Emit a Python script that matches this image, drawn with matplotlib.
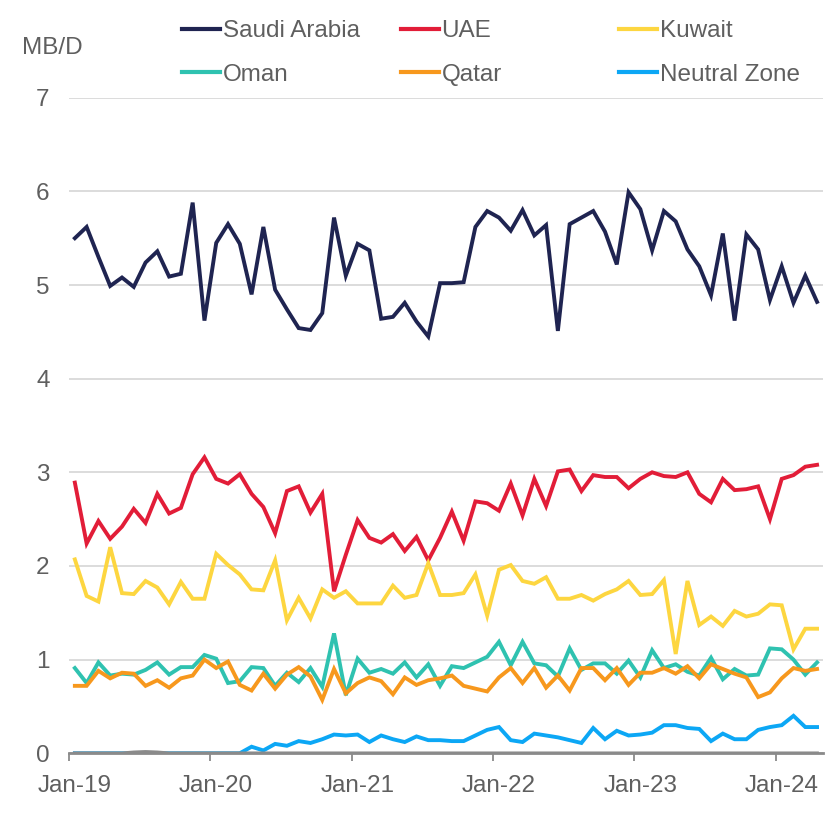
import numpy as np
import pandas as pd
import matplotlib.pyplot as plt

plt.rcParams['font.family'] = ['Liberation Sans', 'DejaVu Sans']

# monthly production, Jan-19 .. Apr-24 (MB/D)
months = pd.date_range('2019-01-01', periods=64, freq='MS')

saudi = [5.50, 5.62, 5.30, 4.99, 5.08, 4.98, 5.24, 5.36, 5.09, 5.12, 5.88, 4.62,
         5.45, 5.65, 5.44, 4.90, 5.62, 4.95, 4.74, 4.54, 4.52, 4.70, 5.72, 5.10,
         5.44, 5.37, 4.64, 4.66, 4.81, 4.61, 4.45, 5.02, 5.02, 5.03, 5.62, 5.79,
         5.72, 5.58, 5.80, 5.53, 5.64, 4.51, 5.65, 5.72, 5.79, 5.57, 5.22, 5.99,
         5.81, 5.37, 5.79, 5.68, 5.38, 5.20, 4.89, 5.55, 4.62, 5.54, 5.38, 4.84,
         5.20, 4.81, 5.10, 4.82]
uae = [2.89, 2.24, 2.48, 2.29, 2.42, 2.61, 2.46, 2.77, 2.56, 2.62, 2.98, 3.16,
       2.93, 2.88, 2.98, 2.77, 2.63, 2.35, 2.80, 2.85, 2.57, 2.77, 1.73, 2.12,
       2.49, 2.30, 2.25, 2.34, 2.16, 2.31, 2.06, 2.30, 2.58, 2.27, 2.69, 2.67,
       2.59, 2.88, 2.54, 2.93, 2.64, 3.01, 3.03, 2.80, 2.97, 2.95, 2.95, 2.83,
       2.93, 3.00, 2.96, 2.95, 3.00, 2.77, 2.68, 2.93, 2.81, 2.82, 2.85, 2.50,
       2.93, 2.97, 3.06, 3.08]
kuwait = [2.07, 1.68, 1.62, 2.20, 1.71, 1.70, 1.84, 1.77, 1.59, 1.83, 1.65, 1.65,
          2.13, 2.01, 1.91, 1.75, 1.74, 2.06, 1.42, 1.66, 1.44, 1.75, 1.66, 1.73,
          1.60, 1.60, 1.60, 1.79, 1.66, 1.69, 2.03, 1.69, 1.69, 1.71, 1.91, 1.47,
          1.96, 2.01, 1.84, 1.81, 1.88, 1.65, 1.65, 1.69, 1.63, 1.70, 1.75, 1.84,
          1.69, 1.70, 1.85, 1.06, 1.84, 1.37, 1.46, 1.36, 1.52, 1.46, 1.49, 1.59,
          1.58, 1.11, 1.33, 1.33]
oman = [0.91, 0.75, 0.97, 0.83, 0.85, 0.84, 0.89, 0.97, 0.84, 0.92, 0.92, 1.05,
        1.01, 0.75, 0.77, 0.92, 0.91, 0.72, 0.86, 0.76, 0.91, 0.71, 1.28, 0.62,
        1.01, 0.86, 0.90, 0.85, 0.97, 0.81, 0.95, 0.72, 0.93, 0.91, 0.97, 1.03,
        1.19, 0.94, 1.19, 0.96, 0.94, 0.82, 1.12, 0.89, 0.96, 0.96, 0.85, 0.99,
        0.81, 1.10, 0.91, 0.95, 0.87, 0.83, 1.02, 0.79, 0.90, 0.83, 0.84, 1.12,
        1.11, 1.00, 0.84, 0.97]
qatar = [0.72, 0.72, 0.88, 0.80, 0.86, 0.85, 0.72, 0.78, 0.70, 0.80, 0.83, 1.00,
         0.91, 0.98, 0.73, 0.67, 0.85, 0.69, 0.84, 0.92, 0.82, 0.57, 0.90, 0.64,
         0.75, 0.81, 0.77, 0.63, 0.81, 0.73, 0.78, 0.80, 0.83, 0.72, 0.69, 0.66,
         0.81, 0.91, 0.75, 0.91, 0.70, 0.83, 0.67, 0.91, 0.91, 0.78, 0.91, 0.73,
         0.86, 0.86, 0.91, 0.85, 0.93, 0.80, 0.95, 0.90, 0.85, 0.81, 0.60, 0.65,
         0.80, 0.91, 0.88, 0.90]
neutral = [0.00, 0.00, 0.00, 0.00, 0.00, 0.00, 0.00, 0.00, 0.00, 0.00, 0.00, 0.00,
           0.00, 0.00, 0.00, 0.07, 0.03, 0.10, 0.08, 0.13, 0.11, 0.15, 0.20, 0.19,
           0.20, 0.12, 0.19, 0.15, 0.12, 0.18, 0.14, 0.14, 0.13, 0.13, 0.19, 0.25,
           0.28, 0.14, 0.12, 0.21, 0.19, 0.17, 0.14, 0.11, 0.27, 0.15, 0.24, 0.19,
           0.20, 0.22, 0.30, 0.30, 0.27, 0.26, 0.13, 0.21, 0.15, 0.15, 0.25, 0.28,
           0.30, 0.40, 0.28, 0.28]
other = [0.00, 0.00, 0.00, 0.00, 0.00, 0.01, 0.015, 0.01, 0.00, 0.00, 0.00, 0.00,
         0.00, 0.00, 0.00, 0.00, 0.00, 0.00, 0.00, 0.00, 0.00, 0.00, 0.00, 0.00,
         0.00, 0.00, 0.00, 0.00, 0.00, 0.00, 0.00, 0.00, 0.00, 0.00, 0.00, 0.00,
         0.00, 0.00, 0.00, 0.00, 0.00, 0.00, 0.00, 0.00, 0.00, 0.00, 0.00, 0.00,
         0.00, 0.00, 0.00, 0.00, 0.00, 0.00, 0.00, 0.00, 0.00, 0.00, 0.00, 0.00,
         0.00, 0.00, 0.00, 0.00]

names = ['Saudi Arabia', 'UAE', 'Kuwait', 'Oman', 'Qatar', 'Neutral Zone']
colors = ['#1f2451', '#e21d38', '#fdd640', '#2fc2b0', '#f7981d', '#0ca7f5']
series = [saudi, uae, kuwait, oman, qatar, neutral]

txt = '#5f5f5f'
fs = 17.5

fig = plt.figure(figsize=(8.4, 8.17), dpi=100)
ax = fig.add_axes([0.0821, 0.078, 0.8976, 0.8024])

x = np.arange(len(months)) + 0.5
lines = []
for vals, name, c in zip(series, names, colors):
    ln, = ax.plot(x, vals, color=c, lw=2.8, label=name, solid_joinstyle='miter')
    lines.append(ln)
ax.plot(x, other, color='#8a8a8a', lw=2.6, zorder=3)

ax.set_xlim(0, len(months))
ax.set_ylim(0, 7)
ax.set_yticks(range(0, 8))
ax.grid(axis='y', color='#d9d9d9', lw=1.3)
ax.set_axisbelow(True)

# year ticks at month boundaries, labels centred on the January point
year_idx = [i for i, d in enumerate(months) if d.month == 1]
ax.set_xticks(year_idx)
ax.set_xticklabels([])
ax.set_xticks([i + 0.5 for i in year_idx], minor=True)
ax.set_xticklabels([months[i].strftime('%b-%y') for i in year_idx], minor=True)
ax.tick_params(axis='x', which='major', length=6, width=1.3, color='#8a8a8a')
ax.tick_params(axis='x', which='minor', length=0, pad=16, labelsize=fs, labelcolor=txt)
ax.tick_params(axis='y', length=0, pad=14, labelsize=fs, labelcolor=txt)

for s in ['top', 'right', 'left']:
    ax.spines[s].set_visible(False)
ax.spines['bottom'].set_color('#8a8a8a')
ax.spines['bottom'].set_linewidth(2)

fig.text(22 / 840, 1 - 48 / 817, 'MB/D', fontsize=fs, color=txt, va='center', ha='left')

# legend: three columns of two entries
col_x = [182 / 840, 401 / 840, 619 / 840]
for k in range(3):
    leg = fig.legend([lines[k], lines[k + 3]], [names[k], names[k + 3]],
                     loc='upper left', bbox_to_anchor=(col_x[k], 1 - 20 / 817),
                     frameon=False, fontsize=fs, handlelength=1.55,
                     handletextpad=0.12, labelspacing=0.9, borderpad=0,
                     borderaxespad=0)
    for t in leg.get_texts():
        t.set_color(txt)
    for h in leg.get_lines():
        h.set_linewidth(3)

fig.savefig('out.png', dpi=100)
